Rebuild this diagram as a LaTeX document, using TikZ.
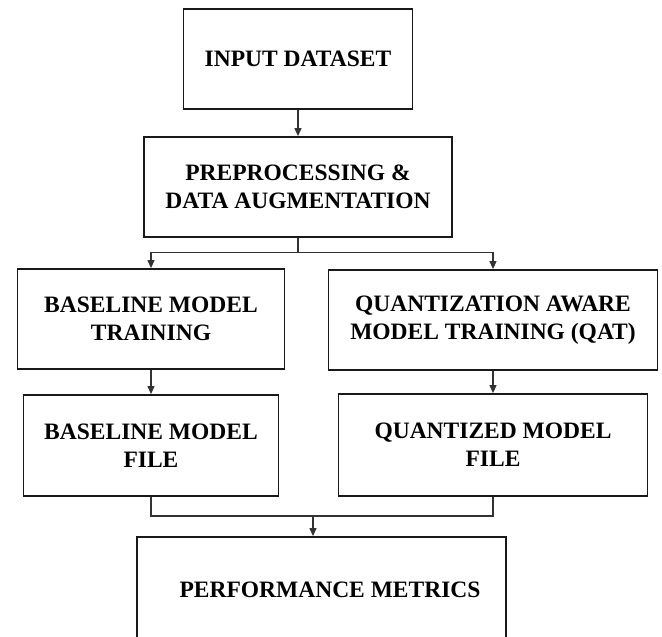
\documentclass[tikz,border=0pt]{standalone}
\usepackage{fontspec}
\setmainfont{Liberation Serif}
\usetikzlibrary{arrows.meta}
\tikzset{
  box/.style={draw=black!90, line width=1.8pt, rectangle, align=center, inner sep=0pt,
    font=\bfseries\fontsize{23.5}{28}\selectfont},
  conn/.style={draw=black!80, line width=1.1pt},
  arr/.style={conn, -{Triangle[length=8pt,width=7pt]}}
}
\begin{document}
\begin{tikzpicture}[x=1pt,y=-1pt]
\useasboundingbox (0,0) rectangle (662,637);
\clip (0,0) rectangle (662,637);
\fill[white] (0,0) rectangle (662,637);
\node[box, minimum width=229pt, minimum height=100pt] (b1) at (298,59) {INPUT DATASET};
\node[box, minimum width=308pt, minimum height=100pt] (b2) at (298,187) {PREPROCESSING \&\\DATA AUGMENTATION};
\node[box, minimum width=267pt, minimum height=100pt] (b3) at (151,319) {BASELINE MODEL\\TRAINING};
\node[box, minimum width=329pt, minimum height=100pt] (b4) at (493,320) {QUANTIZATION AWARE\\MODEL TRAINING (QAT)};
\node[box, minimum width=255pt, minimum height=101pt] (b5) at (151,445.5) {BASELINE MODEL\\FILE};
\node[box, minimum width=309pt, minimum height=102pt] (b6) at (493,445) {QUANTIZED MODEL\\FILE};
\node[box, minimum width=369pt, minimum height=106pt] (b7) at (321.5,590) {\hspace*{17pt}PERFORMANCE METRICS};
\draw[arr] (b1.south) -- (b2.north);
\draw[conn] (b2.south) -- ++(0,15) coordinate (j1);
\draw[arr] (j1) -| (b3.north);
\draw[arr] (j1) -| (b4.north);
\draw[arr] (b3.south) -- (b5.north);
\draw[arr] (b4.south) -- (b6.north);
\coordinate (j2) at (313,516);
\draw[conn] (b5.south) |- (j2) -| (b6.south);
\draw[arr] (j2) -- (j2 |- b7.north);
\end{tikzpicture}
\end{document}
